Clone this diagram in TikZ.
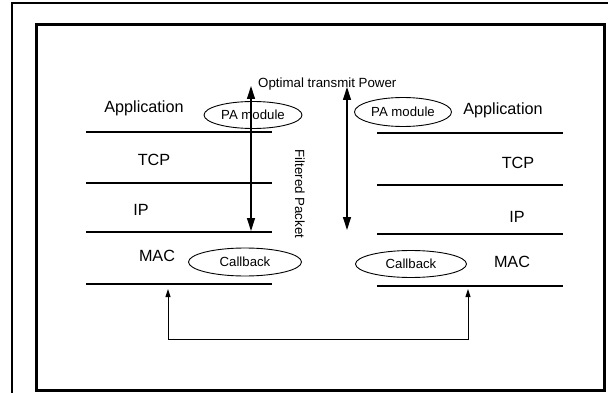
\documentclass[tikz,border=0pt]{standalone}
\usepackage{fontspec}
\setmainfont{Liberation Sans}
\usetikzlibrary{arrows.meta,shapes.geometric}
\begin{document}
\begin{tikzpicture}[x=1pt,y=-1pt,
  layer/.style={line width=2.8pt},
  frame/.style={line width=3pt},
  lbl/.style={font=\fontsize{16.2}{18}\selectfont, inner sep=0pt},
  small/.style={font=\fontsize{13.3}{15}\selectfont, inner sep=0pt},
  oval/.style={draw, ellipse, line width=0.9pt, inner sep=0pt, font=\fontsize{13.2}{15}\selectfont},
  bigarrow/.style={line width=1.3pt, {Triangle[length=13pt,width=8pt]}-{Triangle[length=13pt,width=8pt]}},
  smallarrow/.style={line width=1pt, {Triangle[length=8pt,width=5pt]}-{Triangle[length=8pt,width=5pt]}}]
\useasboundingbox (0,0) rectangle (608,393);
\fill[white] (0,0) rectangle (608,393);
% outer frame
\draw[line width=2pt] (12,393) -- (12,3) -- (608,3);
% inner frame
\draw[frame] (36,25) rectangle (604,390);
% left stack
\draw[layer] (86,132) -- (272,132);
\draw[layer] (86,183) -- (272,183);
\draw[layer] (86,232) -- (272,232);
\draw[layer] (86,284) -- (272,284);
\node[lbl] (lapp) at (144,108) {Application};
\node[lbl] (ltcp) at (154,160) {TCP};
\node[lbl] (lip) at (141,210) {IP};
\node[lbl] (lmac) at (157,256) {MAC};
% right stack
\draw[layer] (377,133) -- (563,133);
\draw[layer] (377,185) -- (563,185);
\draw[layer] (377,234) -- (563,234);
\draw[layer] (377,286) -- (563,286);
\node[lbl] (rapp) at (503,110) {Application};
\node[lbl] (rtcp) at (518,163) {TCP};
\node[lbl] (rip) at (517,217) {IP};
\node[lbl] (rmac) at (512,262) {MAC};
% ellipses
\node[oval, minimum width=98pt, minimum height=27pt] (lpa) at (253,115) {PA module};
\node[oval, minimum width=97pt, minimum height=29pt] (rpa) at (403,112) {PA module};
\node[oval, minimum width=113pt, minimum height=28pt] (lcb) at (245,262) {Callback};
\node[oval, minimum width=111pt, minimum height=27pt] (rcb) at (411,264) {Callback};
% vertical arrows
\coordinate (lt) at (251,86);
\coordinate (lb) at (251,231);
\coordinate (rt) at (347,87);
\coordinate (rb) at (347,230);
\draw[bigarrow] (lt) -- (lb);
\draw[bigarrow] (rt) -- (rb);
\node[small, anchor=west] (otp) at (258,84) {Optimal transmit Power};
\node[small, rotate=-90] (fp) at (300,194) {Filtered Packet};
% bottom connector
\coordinate (bl) at (168,289);
\coordinate (br) at (468,289);
\coordinate (bot) at (0,339);
\draw[smallarrow] (bl) -- (bl |- bot) -- (br |- bot) -- (br);
\end{tikzpicture}
\end{document}
